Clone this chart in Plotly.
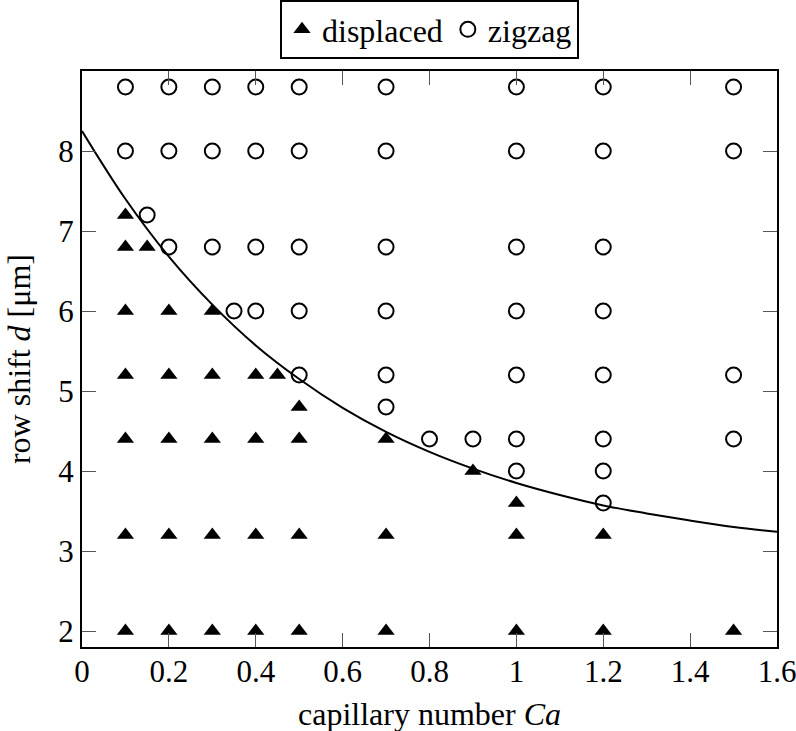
import plotly.graph_objects as go

# displaced (filled triangles)
disp_x = [0.1]*7 + [0.15] + [0.2]*5 + [0.3]*5 + [0.4]*4 + [0.45] + [0.5]*4 + [0.7]*3 + [0.9] + [1.0]*3 + [1.2]*2 + [1.5]
disp_y = [2, 3.2, 4.4, 5.2, 6, 6.8, 7.2,
          6.8,
          2, 3.2, 4.4, 5.2, 6,
          2, 3.2, 4.4, 5.2, 6,
          2, 3.2, 4.4, 5.2,
          5.2,
          2, 3.2, 4.4, 4.8,
          2, 3.2, 4.4,
          4.0,
          2, 3.2, 3.6,
          2, 3.2,
          2]

# zigzag (open circles)
zig_x = [0.1]*2 + [0.15] + [0.2]*3 + [0.3]*3 + [0.35] + [0.4]*4 + [0.5]*5 + [0.7]*6 + [0.8] + [0.9] + [1.0]*7 + [1.2]*8 + [1.5]*4
zig_y = [8, 8.8,
         7.2,
         6.8, 8, 8.8,
         6.8, 8, 8.8,
         6.0,
         6, 6.8, 8, 8.8,
         5.2, 6, 6.8, 8, 8.8,
         4.8, 5.2, 6, 6.8, 8, 8.8,
         4.4,
         4.4,
         4.0, 4.4, 5.2, 6, 6.8, 8, 8.8,
         3.6, 4.0, 4.4, 5.2, 6, 6.8, 8, 8.8,
         4.4, 5.2, 8, 8.8]

# boundary curve, values
curve_x = [0.0, 0.1, 0.2, 0.3, 0.4, 0.5, 0.6, 0.7, 0.8, 0.9, 1.0, 1.1, 1.2, 1.3, 1.4, 1.5, 1.6]
curve_y = [8.25, 7.40, 6.68, 6.08, 5.57, 5.15, 4.79, 4.49, 4.24, 4.03, 3.85, 3.70, 3.57, 3.47, 3.38, 3.30, 3.24]

x_ticks = [0, 0.2, 0.4, 0.6, 0.8, 1.0, 1.2, 1.4, 1.6]
x_tick_labels = ["0", "0.2", "0.4", "0.6", "0.8", "1", "1.2", "1.4", "1.6"]
y_ticks = [2, 3, 4, 5, 6, 7, 8]
x_title = "capillary number <i>Ca</i>"
y_title = "row shift <i>d</i> [μm]"

FONT = "Liberation Serif"
FS = 31
FT = 32

fig = go.Figure()
fig.add_trace(go.Scatter(x=curve_x, y=curve_y, mode="lines", line=dict(color="black", width=2, shape="spline"),
                         showlegend=False, hoverinfo="skip"))
fig.add_trace(go.Scatter(x=disp_x, y=disp_y, mode="markers", name="displaced",
                         marker=dict(symbol="triangle-up", size=15, color="black", line=dict(width=0))))
fig.add_trace(go.Scatter(x=zig_x, y=zig_y, mode="markers", name="zigzag",
                         marker=dict(symbol="circle-open", size=15, color="black", line=dict(width=2, color="black"))))

axis_common = dict(showgrid=False, zeroline=False, showline=True, linecolor="black", linewidth=2, mirror="ticks",
                   ticks="inside", ticklen=14, tickwidth=1, tickcolor="#555", automargin=False,
                   ticklabeloverflow="allow",
                   tickfont=dict(family=FONT, size=FS, color="black"))

fig.update_xaxes(range=[0, 1.6], tickvals=x_ticks, ticktext=x_tick_labels, ticklabelstandoff=-4, **axis_common)
fig.update_yaxes(range=[1.8, 9], tickvals=y_ticks, ticklabelstandoff=0, **axis_common)

fig.add_annotation(text=x_title, xref="paper", yref="paper", x=0.5, y=-0.116, xanchor="center", yanchor="middle",
                   showarrow=False, font=dict(family=FONT, size=FT, color="black"))
fig.add_annotation(text=y_title, xref="paper", yref="paper", x=-0.0906, y=0.5, xanchor="center", yanchor="middle",
                   textangle=-90, showarrow=False, font=dict(family=FONT, size=FT, color="black"))

fig.update_layout(
    width=796, height=731,
    margin=dict(l=82, r=19, t=71, b=84),
    plot_bgcolor="white", paper_bgcolor="white",
    font=dict(family=FONT, size=FS, color="black"),
    legend=dict(orientation="h", x=0.5, xanchor="center", xref="paper",
                y=1.0, yanchor="top", yref="container",
                bordercolor="black", borderwidth=2, bgcolor="white",
                font=dict(family=FONT, size=FT, color="black"),
                itemwidth=30, tracegroupgap=0),
)

fig.write_html("out.html", config={"displayModeBar": False},
               post_script="document.body.style.margin='0';document.body.style.padding='0';")
